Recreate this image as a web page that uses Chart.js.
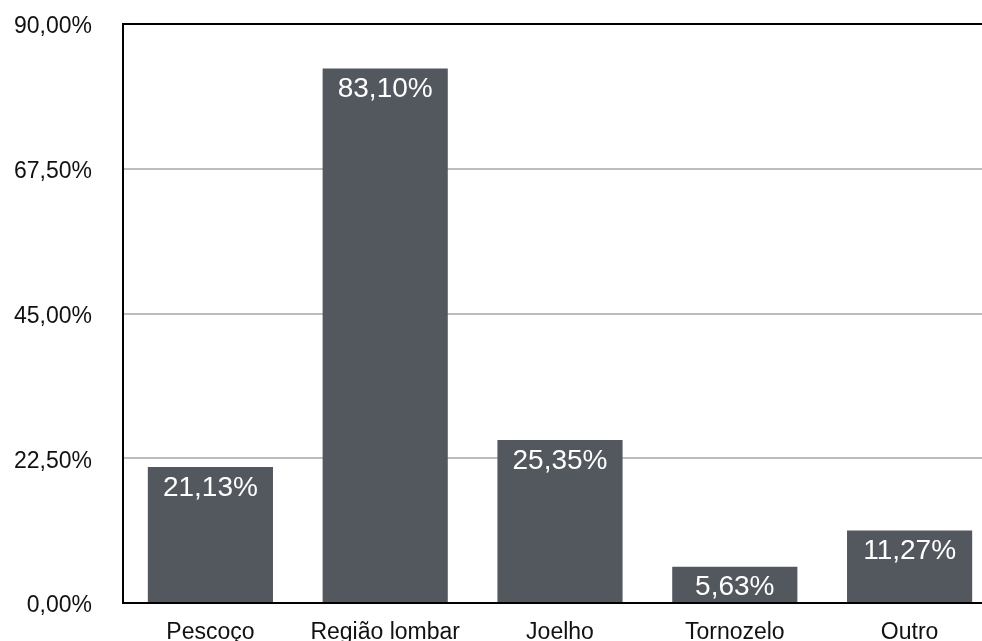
<!DOCTYPE html>
<html>
<head>
<meta charset="utf-8">
<script src="https://cdn.jsdelivr.net/npm/chart.js@4/dist/chart.umd.min.js"></script>
<style>
  html, body { margin: 0; padding: 0; background: #fff; overflow: hidden; }
  #wrap { position: absolute; left: 0; top: 0; width: 997px; height: 641px; }
</style>
</head>
<body>
<div id="wrap"><canvas id="canvas"></canvas></div>
<script>
var categories = ['Pescoço', 'Região lombar', 'Joelho', 'Tornozelo', 'Outro'];
var values = [21.13, 83.10, 25.35, 5.63, 11.27];
var yTicks = [0, 22.5, 45, 67.5, 90];

var fontFamily = '"Liberation Sans", Arial, sans-serif';

function pct(v) {
    return v.toFixed(2).replace('.', ',') + '%';
}

// white value text just inside the top of each bar
var barLabels = {
    id: 'barLabels',
    afterDatasetsDraw: function(chart) {
        var ctx = chart.ctx;
        var meta = chart.getDatasetMeta(0);
        ctx.save();
        ctx.fillStyle = '#fff';
        ctx.font = '28px ' + fontFamily;
        ctx.textAlign = 'center';
        ctx.textBaseline = 'middle';
        meta.data.forEach(function(bar, i) {
            ctx.fillText(pct(values[i]), bar.x, bar.y + 21);
        });
        ctx.restore();
    }
};

var ctx = document.getElementById('canvas').getContext('2d');
var config = {
    type: 'bar',
    data: {
        labels: categories,
        datasets: [{
            data: values,
            backgroundColor: '#53575e',
            categoryPercentage: 1,
            barPercentage: 0.716
        }]
    },
    options: {
        responsive: true,
        maintainAspectRatio: false,
        animation: false,
        layout: { padding: { top: 24, left: 0, right: 0, bottom: 0 } },
        plugins: { legend: { display: false }, tooltip: { enabled: false } },
        scales: {
            x: {
                grid: { display: false },
                border: { display: true, color: '#000', width: 2 },
                ticks: {
                    color: '#111',
                    padding: 8,
                    font: { family: fontFamily, size: 23 }
                },
                afterFit: function(scale) {
                    scale.height = 38;
                    scale.paddingLeft = 0;
                    scale.paddingRight = 0;
                }
            },
            y: {
                min: 0,
                max: 90,
                afterBuildTicks: function(scale) {
                    scale.ticks = yTicks.map(function(v) { return { value: v }; });
                },
                grid: {
                    drawTicks: false,
                    color: function(c) { return c.tick && c.tick.value === 90 ? '#000' : '#bdbdbd'; },
                    lineWidth: 2
                },
                border: { display: true, color: '#000', width: 2 },
                ticks: {
                    color: '#111',
                    padding: 31,
                    labelOffset: 3,
                    font: { family: fontFamily, size: 23 },
                    callback: function(v) { return pct(v); }
                },
                afterFit: function(scale) {
                    scale.width = 123;
                    scale.paddingTop = 0;
                    scale.paddingBottom = 0;
                }
            }
        }
    },
    plugins: [barLabels]
};

var chart = new Chart(ctx, config);
</script>
</body>
</html>
